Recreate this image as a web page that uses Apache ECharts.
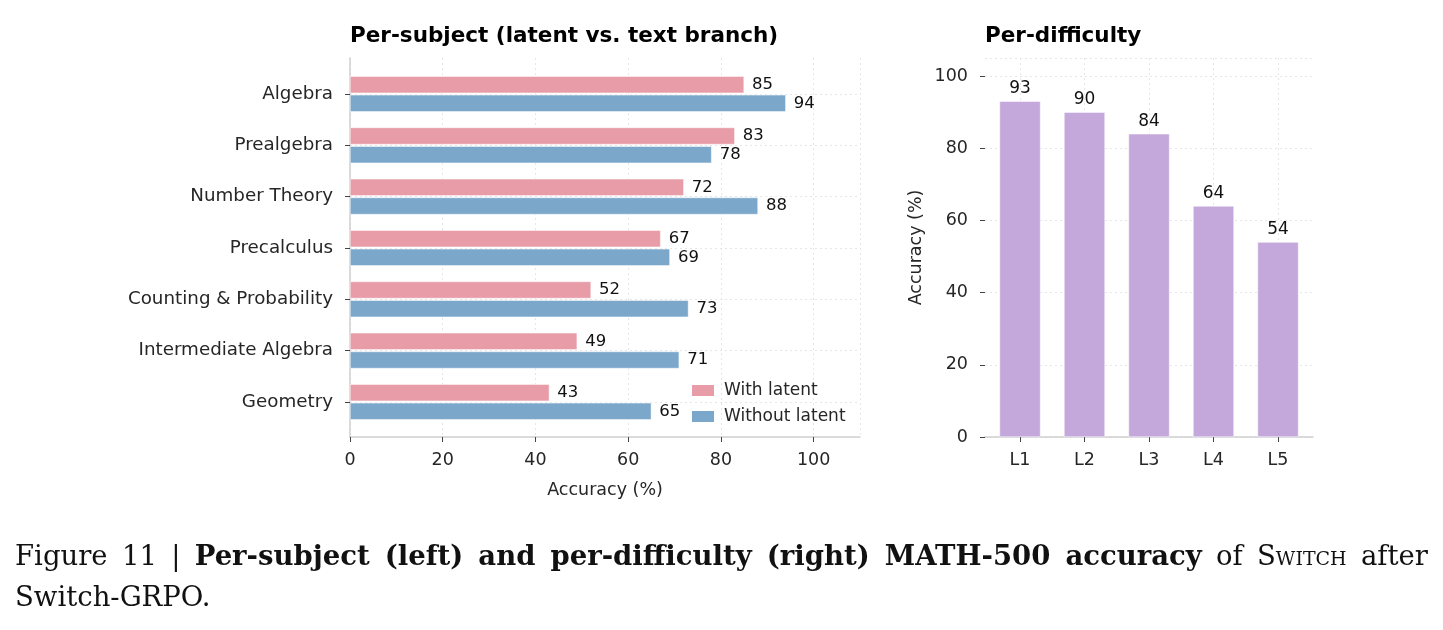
<!DOCTYPE html>
<html>
<head>
<meta charset="utf-8">
<script src="https://cdn.jsdelivr.net/npm/echarts@6/dist/echarts.min.js"></script>
<style>
  html, body { margin: 0; padding: 0; background: #fff; }
  #chart { position: absolute; left: 0; top: 0; width: 1443px; height: 630px; }
  .cap { position: absolute; left: 15px; width: 1413px; font-family: 'DejaVu Serif', serif; font-size: 27.5px; line-height: 40px; color: #111; }
  .line1 { top: 535px; text-align: justify; text-align-last: justify; }
  .line2 { top: 576px; }
  .sc { font-variant: small-caps; }
</style>
</head>
<body>
<div id="chart"></div>
<div class="cap line1">Figure 11 | <b>Per-subject (left) and per-difficulty (right) MATH-500 accuracy</b> of <span class="sc">Switch</span> after</div>
<div class="cap line2">Switch-GRPO.</div>
<script>
const subjects = ['Algebra', 'Prealgebra', 'Number Theory', 'Precalculus', 'Counting & Probability', 'Intermediate Algebra', 'Geometry'];
const withLatent = [85, 83, 72, 67, 52, 49, 43];
const withoutLatent = [94, 78, 88, 69, 73, 71, 65];
const levels = ['L1', 'L2', 'L3', 'L4', 'L5'];
const levelAcc = [93, 90, 84, 64, 54];

const textColor = '#262626';
const axisGrey = '#cfcfcf';
const gridLine = { show: true, lineStyle: { color: '#e6e6e6', type: [2, 3], width: 1 } };
const tickStyle = { show: true, length: 5, lineStyle: { color: '#444' } };

const chart = echarts.init(document.getElementById('chart'));

const option = {
    animation: false,
    textStyle: { fontFamily: 'DejaVu Sans' },
    title: [
        { text: 'Per-subject (latent vs. text branch)', left: 345, top: 20, textStyle: { fontSize: 21.5, fontWeight: 'bold', color: '#000' } },
        { text: 'Per-difficulty', left: 980, top: 20, textStyle: { fontSize: 21.5, fontWeight: 'bold', color: '#000' } },
    ],
    legend: {
        orient: 'vertical',
        left: 685,
        top: 377,
        icon: 'rect',
        itemWidth: 24,
        itemHeight: 13,
        itemGap: 9,
        textStyle: { fontSize: 17, color: textColor, padding: [0, 0, 0, 4] },
        data: ['With latent', 'Without latent'],
    },
    grid: [
        // left frame
        { left: 350, right: 583, top: 58, bottom: 193 },
        // left bars (category centers)
        { left: 350, right: 583, top: 94, bottom: 228 },
        // right frame
        { left: 985, right: 130, top: 58, bottom: 193 },
        // right bars
        { left: 1020, right: 165, top: 58, bottom: 193 },
    ],
    xAxis: [
        {
            gridIndex: 0, type: 'value', min: 0, max: 110, interval: 20,
            name: 'Accuracy (%)', nameLocation: 'middle', nameGap: 44,
            nameTextStyle: { fontSize: 17.5, color: textColor },
            axisLine: { show: true, lineStyle: { color: axisGrey, width: 1.5 } },
            axisTick: tickStyle,
            axisLabel: { fontSize: 17.5, color: textColor, margin: 14, showMaxLabel: false },
            splitLine: gridLine,
        },
        { gridIndex: 1, type: 'value', min: 0, max: 110, show: false },
        {
            gridIndex: 2, type: 'value', min: 0, max: 1,
            axisLine: { show: true, lineStyle: { color: axisGrey, width: 1.5 } },
            axisTick: { show: false }, axisLabel: { show: false }, splitLine: { show: false },
        },
        {
            gridIndex: 3, type: 'category', data: levels, boundaryGap: false,
            axisLine: { show: false },
            axisTick: tickStyle,
            axisLabel: { fontSize: 17.5, color: textColor, margin: 14 },
            splitLine: gridLine,
        },
    ],
    yAxis: [
        {
            gridIndex: 0, type: 'value', min: 0, max: 1,
            axisLine: { show: true, lineStyle: { color: axisGrey, width: 1.5 } },
            axisTick: { show: false }, axisLabel: { show: false }, splitLine: { show: false },
        },
        {
            gridIndex: 1, type: 'category', data: subjects, inverse: true, boundaryGap: false,
            axisLine: { show: false },
            axisTick: tickStyle,
            axisLabel: { fontSize: 18.3, color: textColor, margin: 17 },
            splitLine: gridLine,
        },
        {
            gridIndex: 2, type: 'value', min: 0, max: 105, interval: 20,
            name: 'Accuracy (%)', nameLocation: 'middle', nameGap: 60,
            nameTextStyle: { fontSize: 17.5, color: textColor },
            axisLine: { show: false },
            axisTick: tickStyle,
            axisLabel: { fontSize: 17.5, color: textColor, margin: 17, showMaxLabel: false },
            splitLine: gridLine,
        },
        { gridIndex: 3, type: 'value', min: 0, max: 105, show: false },
    ],
    series: [
        {
            name: 'With latent', type: 'bar', xAxisIndex: 1, yAxisIndex: 1,
            data: withLatent, barWidth: 17, barGap: '10%', clip: false,
            itemStyle: { color: '#e79ca8', borderColor: '#fff', borderWidth: 0.5 },
            label: { show: true, position: 'right', distance: 8, fontSize: 16.5, color: '#111' },
        },
        {
            name: 'Without latent', type: 'bar', xAxisIndex: 1, yAxisIndex: 1,
            data: withoutLatent, barWidth: 17, barGap: '10%', clip: false,
            itemStyle: { color: '#7ba7cb', borderColor: '#fff', borderWidth: 0.5 },
            label: { show: true, position: 'right', distance: 8, fontSize: 16.5, color: '#111' },
        },
        {
            name: 'Per-difficulty', type: 'bar', xAxisIndex: 3, yAxisIndex: 3,
            data: levelAcc, barWidth: 41, clip: false,
            itemStyle: { color: '#c4a7db', borderColor: '#fff', borderWidth: 0.5 },
            label: { show: true, position: 'top', distance: 4, fontSize: 17, color: '#111' },
        },
    ],
};

chart.setOption(option);
</script>
</body>
</html>
